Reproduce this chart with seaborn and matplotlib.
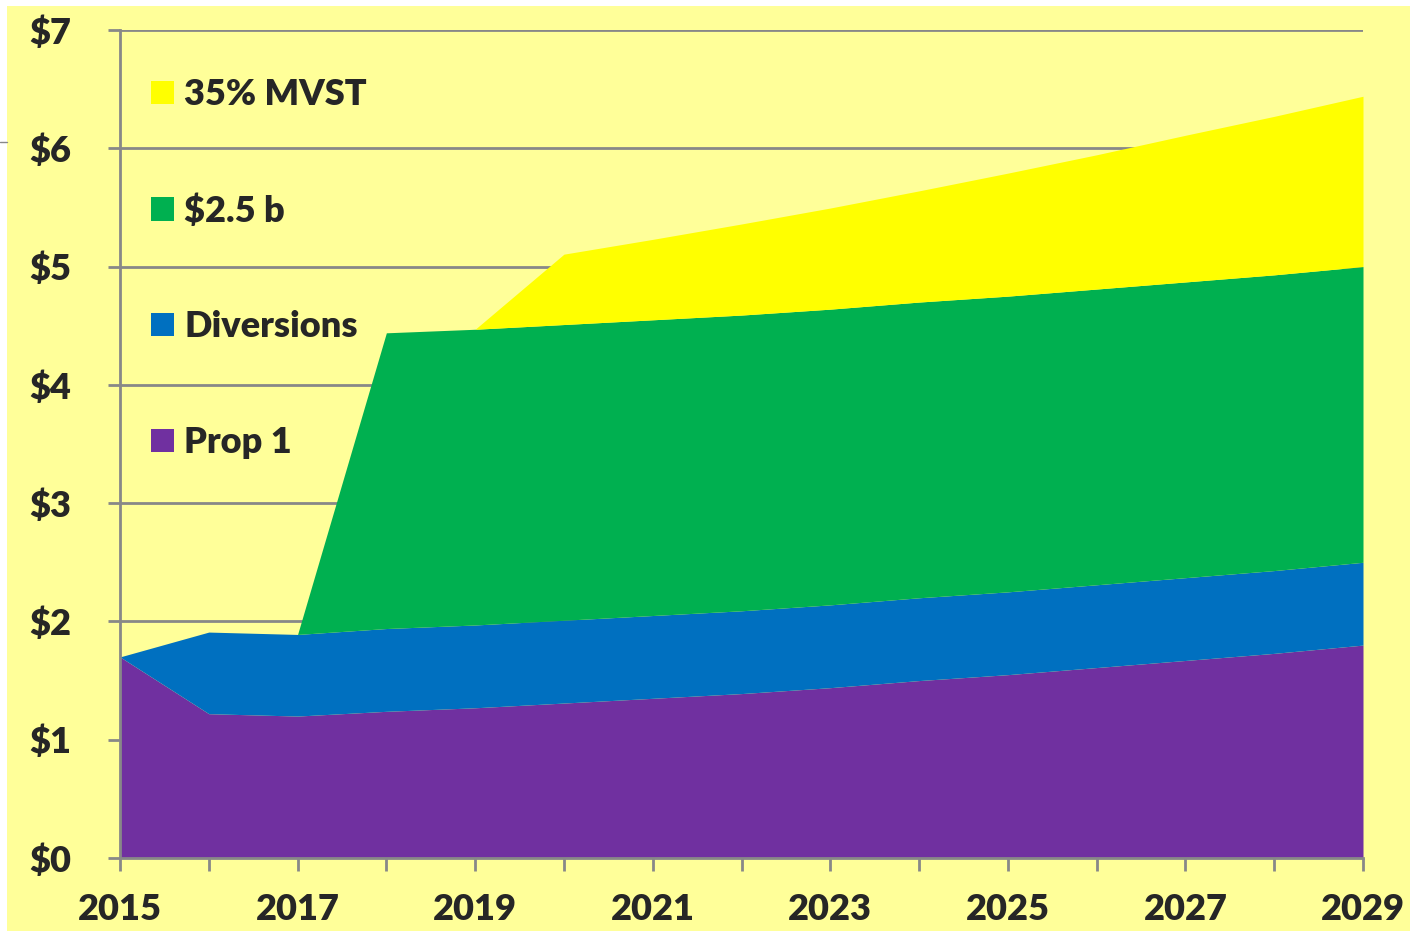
import numpy as np
import pandas as pd
import seaborn as sns
import matplotlib.pyplot as plt
from matplotlib.patches import Patch, Rectangle
from matplotlib.lines import Line2D
from matplotlib.ticker import MultipleLocator, FuncFormatter

years = list(range(2015, 2030))
prop1 = [1.70, 1.22, 1.20, 1.24, 1.27, 1.31, 1.35, 1.39, 1.44, 1.50, 1.55, 1.61, 1.67, 1.73, 1.80]
diversions = [0.00, 0.69, 0.69, 0.70, 0.70, 0.70, 0.70, 0.70, 0.70, 0.70, 0.70, 0.70, 0.70, 0.70, 0.70]
bond = [0.00, 0.00, 0.00, 2.50, 2.50, 2.50, 2.50, 2.50, 2.50, 2.50, 2.50, 2.50, 2.50, 2.50, 2.50]
mvst = [0.00, 0.00, 0.00, 0.00, 0.00, 0.595, 0.68, 0.77, 0.855, 0.94, 1.04, 1.135, 1.24, 1.34, 1.44]
xtick_years = years[::2]

labels = ['Prop 1', 'Diversions', '$2.5 b', '35% MVST']
colors = ['#7030A0', '#0070C0', '#00B050', '#FFFF00']
bg = '#FFFF99'

data = pd.DataFrame({'year': years, labels[0]: prop1, labels[1]: diversions,
                     labels[2]: bond, labels[3]: mvst})

sns.set_theme(style='white', palette=sns.color_palette(colors))
plt.rcParams['font.family'] = ['Lato', 'DejaVu Sans']

fig, ax = plt.subplots(figsize=(14.1, 9.31), dpi=100)
fig.patch.set_facecolor('white')
fig.patches.append(Rectangle((7 / 1410, 0), 1, 1 - 6 / 931, transform=fig.transFigure,
                             facecolor=bg, edgecolor='none', zorder=-10))
fig.lines.append(Line2D([0, 7 / 1410], [1 - 142 / 931] * 2, transform=fig.transFigure,
                        color='#888888', linewidth=1))
fig.subplots_adjust(left=120 / 1410, right=1363 / 1410, top=1 - 30 / 931, bottom=1 - 858 / 931)
ax.set_facecolor(bg)

ax.stackplot(data['year'], [data[l] for l in labels], colors=colors, zorder=2, linewidth=0)

ax.set_xlim(2015, 2029)
ax.set_ylim(0, 7)
ax.yaxis.set_major_locator(MultipleLocator(1))
ax.yaxis.set_major_formatter(FuncFormatter(lambda v, p: f'${v:.0f}'))
ax.set_xticks(xtick_years)
ax.set_xticklabels([str(y) for y in xtick_years])
ax.set_xticks(years, minor=True)

ax.grid(axis='y', color='#888888', linewidth=2, zorder=1)
ax.set_axisbelow(True)
for s in ['top', 'right']:
    ax.spines[s].set_visible(False)
for s in ['left', 'bottom']:
    ax.spines[s].set_color('#888888')
    ax.spines[s].set_linewidth(2)
    ax.spines[s].set_zorder(3)

ax.tick_params(axis='y', which='major', direction='out', length=9, width=2, color='#888888',
               left=True, pad=26, labelsize=26)
ax.tick_params(axis='x', which='both', direction='out', length=9, width=2, color='#888888',
               bottom=True, pad=16, labelsize=26)
for t in ax.get_xticklabels() + ax.get_yticklabels():
    t.set_fontweight('heavy')

handles = [Patch(facecolor=c, edgecolor='none') for c in colors][::-1]
lgnd = ax.legend(handles, labels[::-1], loc='upper left', bbox_to_anchor=(0.0135, 0.959),
                 frameon=False, fontsize=26, labelspacing=2.29, handlelength=0.62,
                 handleheight=0.62, handletextpad=0.3, borderaxespad=0)
for t in lgnd.get_texts():
    t.set_fontweight('heavy')

fig.savefig('out.png', dpi=100, facecolor=fig.get_facecolor())
